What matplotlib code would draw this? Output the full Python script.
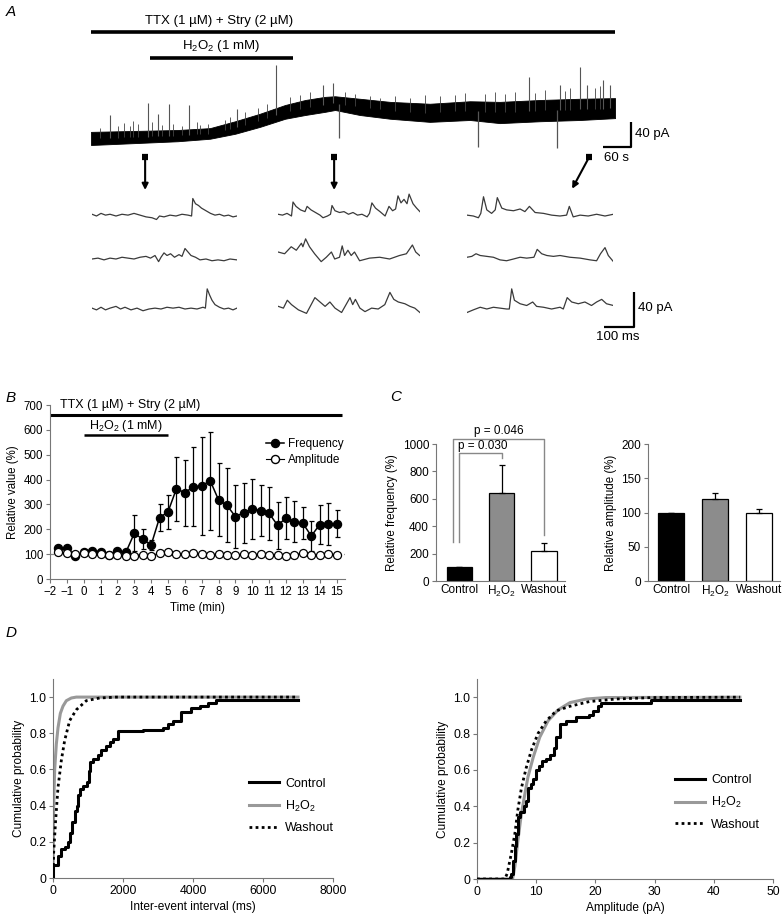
import numpy as np
import matplotlib
matplotlib.use('Agg')
import matplotlib.pyplot as plt
from matplotlib.lines import Line2D

plt.rcParams['font.family'] = ['Liberation Sans', 'DejaVu Sans']
plt.rcParams['mathtext.fontset'] = 'custom'
plt.rcParams['mathtext.rm'] = 'Liberation Sans'
plt.rcParams['mathtext.it'] = 'Liberation Sans:italic'
plt.rcParams['axes.linewidth'] = 0.8

H2O2 = 'H$_2$O$_2$'
NARROW = ['Liberation Sans Narrow', 'Liberation Sans', 'DejaVu Sans']

#   ---------------- data ----------------
#   A: long recording (s, pA above starting baseline), band envelope
trace_t = [0, 186, 255, 309, 362, 416, 459, 501, 523, 576, 641, 726, 812, 876, 962, 1048, 1123]
trace_lo = [0, 6, 10, 18, 29, 42, 48, 53, 56, 48, 42, 37, 40, 35, 38, 40, 43]
trace_hi = [21, 24, 27, 38, 50, 64, 72, 77, 78, 74, 69, 66, 70, 69, 72, 74, 75]
#   big spikes (time s, tip pA)
spike_t = [41, 122, 144, 167, 210, 313, 396, 497, 519, 939, 1005, 1048, 1063, 1097, 1112]
spike_tip = [48, 67, 50, 66, 64, 58, 128, 96, 99, 109, 96, 125, 96, 104, 96]
down_t = [531, 829, 999]
down_tip = [11, -3, -5]
#   small spikes on the band
fuzz_t = [19, 58, 71, 84, 90, 101, 131, 152, 176, 195, 227, 234, 251, 287, 298, 330, 358, 377,
          426, 448, 469, 544, 566, 598, 619, 651, 684, 716, 748, 780, 801, 844, 866, 887, 909,
          951, 973, 1016, 1026, 1080, 1091]
fuzz_tip = [27, 30, 35, 30, 38, 34, 37, 32, 34, 30, 37, 32, 34, 40, 45, 53, 59, 66,
            77, 80, 85, 85, 82, 78, 75, 78, 75, 80, 78, 80, 83, 82, 85, 82, 85,
            83, 88, 86, 91, 91, 94]
ttx_on = [0, 1123]
h2o2_on = [126, 433]
sample_t = [116, 521, 1067]

#   A: sweeps (ms, pA) control / H2O2 / washout, rows 1-3
ctrl_1 = [(0, 2), (15, 0), (30, 3), (45, 1), (60, 2), (80, 0), (100, 2), (120, 1), (140, 3), (160, 1),
          (180, -1), (200, -2), (215, -4), (225, 0), (240, -1), (260, 1), (280, 0), (300, 2), (320, 1),
          (332, 0), (336, 20), (345, 14), (355, 12), (365, 9), (380, 6), (395, 3), (410, 1), (425, 2),
          (440, 0), (455, 1), (470, -1), (483, 0)]
ctrl_2 = [(0, 0), (20, 1), (40, -1), (60, 1), (80, 0), (100, 2), (120, 1), (140, 0), (160, 2), (180, 3),
          (195, 1), (210, 4), (222, -3), (230, 2), (240, 7), (250, 4), (262, 6), (275, 2), (290, 5),
          (300, 3), (310, 12), (320, 8), (330, 4), (345, 2), (360, -1), (380, 0), (400, -2), (420, -1),
          (440, -2), (460, 0), (483, -1)]
ctrl_3 = [(0, 1), (15, -1), (30, 2), (45, -1), (60, 1), (80, 3), (95, 0), (110, 2), (130, -1), (150, 1),
          (170, -2), (190, 0), (210, 1), (230, 0), (250, 2), (270, 1), (290, 2), (310, 0), (330, 1),
          (350, 0), (370, 2), (378, 1), (384, 23), (392, 16), (400, 10), (410, 5), (425, 2), (440, 0),
          (455, 1), (470, -1), (483, 1)]
h2o2_1 = [(0, 2), (15, 1), (30, 3), (45, 0), (50, 16), (60, 11), (75, 7), (90, 5), (97, 11), (110, 7),
          (125, 4), (140, 1), (150, -2), (165, 0), (175, 2), (180, 12), (190, 6), (205, 4), (220, 5),
          (235, 2), (250, 4), (265, 1), (280, 2), (297, -1), (305, 3), (313, 15), (325, 9), (340, 5),
          (357, 0), (370, 11), (382, 6), (392, 8), (400, 23), (410, 15), (420, 19), (430, 14),
          (437, 25), (450, 14), (462, 9), (473, 5)]
h2o2_2 = [(0, 8), (22, 6), (44, 14), (61, 10), (78, 18), (83, 14), (92, 23), (105, 14), (122, 6),
          (144, -3), (161, 2), (178, 8), (189, 0), (205, 2), (214, 15), (222, 4), (233, 10), (244, 4),
          (255, 8), (272, -2), (305, 1), (339, 2), (372, 0), (405, 4), (428, 6), (448, 16), (459, 8),
          (472, 4)]
h2o2_3 = [(1, 3), (18, 1), (31, 10), (45, 5), (68, -1), (95, -5), (123, 13), (140, 8), (157, 3),
          (173, 8), (190, 1), (212, -4), (240, 13), (249, 5), (258, 11), (273, 1), (290, -3), (312, 1),
          (334, 0), (356, 5), (373, 19), (386, 11), (401, 8), (423, 6), (440, 3), (456, 1), (473, -4)]
wash_1 = [(0, 1), (21, 0), (38, -2), (46, 3), (55, 22), (66, 7), (82, 3), (94, 7), (101, 21), (116, 9),
          (132, 7), (155, 6), (177, 8), (193, 5), (208, 11), (227, 4), (255, 3), (282, 1), (310, 0),
          (332, 1), (341, 11), (354, -1), (377, 1), (404, 0), (432, 2), (460, 0), (488, 2)]
wash_2 = [(0, 2), (16, 3), (30, 6), (44, 4), (66, 3), (88, 2), (110, -1), (132, -2), (155, 0), (177, 2),
          (199, 1), (223, 2), (234, 11), (249, 6), (266, 4), (288, 3), (310, 4), (343, 2), (377, 1),
          (410, -1), (432, -2), (445, 6), (460, 13), (471, 4), (488, -3)]
wash_3 = [(0, -4), (21, -1), (44, 2), (66, 0), (88, 2), (110, 1), (132, 0), (141, 0), (149, 23),
          (158, 10), (177, 6), (199, 4), (219, 8), (232, 3), (255, 2), (282, 0), (310, 2), (321, 0),
          (334, 13), (349, 8), (371, 6), (393, 8), (415, 4), (432, 8), (449, 11), (465, 6), (488, 4)]

#   B: time course
time_min = [-1.5, -1, -0.5, 0, 0.5, 1, 1.5, 2, 2.5, 3, 3.5, 4, 4.5, 5, 5.5, 6, 6.5, 7, 7.5, 8,
            8.5, 9, 9.5, 10, 10.5, 11, 11.5, 12, 12.5, 13, 13.5, 14, 14.5, 15]
freq = [123, 123, 94, 110, 114, 110, 97, 114, 107, 184, 160, 137, 247, 270, 363, 347, 371, 374,
        396, 318, 296, 251, 267, 282, 275, 264, 216, 245, 231, 224, 173, 219, 221, 223]
freq_err = [8, 8, 8, 8, 8, 8, 8, 8, 8, 73, 40, 20, 53, 68, 129, 132, 159, 199, 197, 147,
            149, 127, 121, 120, 102, 107, 95, 84, 84, 64, 60, 77, 83, 55]
amp = [108, 105, 100, 104, 100, 100, 95, 95, 93, 93, 96, 93, 105, 108, 100, 100, 103, 101, 98,
       100, 96, 97, 99, 97, 101, 98, 96, 94, 97, 104, 97, 96, 99, 98]

#   C: bar summaries
conds = ['Control', H2O2, 'Washout']
rel_freq = [100, 644, 222]
rel_freq_err = [0, 200, 56]
rel_amp = [100, 120, 100]
rel_amp_err = [0, 9, 4.5]
bar_colors = ['black', '#8c8c8c', 'white']

#   D: cumulative distributions
iei_ctrl_x = [0, 0, 143, 238, 333, 428, 495, 552, 619, 686, 724, 762, 857, 971, 1028, 1066, 1142,
              1285, 1380, 1523, 1618, 1714, 1857, 2285, 2570, 3142, 3284, 3427, 3665, 3950, 4189,
              4427, 4665, 7000]
iei_ctrl_y = [0, 0.07, 0.12, 0.16, 0.17, 0.20, 0.25, 0.31, 0.37, 0.40, 0.46, 0.49, 0.51, 0.53, 0.59,
              0.64, 0.66, 0.68, 0.71, 0.73, 0.75, 0.77, 0.81, 0.815, 0.82, 0.83, 0.85, 0.87, 0.92,
              0.94, 0.95, 0.97, 0.985, 0.985]
iei_h2o2_x = [0, 19, 48, 95, 143, 210, 286, 381, 524, 667, 7000]
iei_h2o2_y = [0, 0.40, 0.60, 0.74, 0.83, 0.91, 0.95, 0.98, 0.995, 1.0, 1.0]
iei_wash_x = [0, 19, 76, 143, 238, 333, 476, 667, 952, 1333, 1810, 7000]
iei_wash_y = [0, 0.14, 0.32, 0.50, 0.65, 0.76, 0.87, 0.93, 0.98, 0.995, 1.0, 1.0]

amp_ctrl_x = [0, 5.5, 5.8, 6.1, 6.4, 6.6, 6.9, 7.3, 7.9, 8.2, 8.6, 9.2, 9.5, 9.9, 10.5, 10.9, 11.7,
              12.4, 13.0, 13.4, 14.0, 15.1, 16.8, 19.0, 19.6, 20.4, 21.0, 29.4, 44.4]
amp_ctrl_y = [0, 0.01, 0.03, 0.10, 0.18, 0.25, 0.34, 0.37, 0.40, 0.43, 0.50, 0.52, 0.55, 0.60, 0.62,
              0.65, 0.66, 0.68, 0.72, 0.78, 0.85, 0.87, 0.89, 0.90, 0.925, 0.95, 0.97, 0.985, 0.985]
amp_h2o2_x = [0, 6.0, 6.4, 6.9, 7.5, 8.1, 8.6, 9.5, 10.6, 12.0, 13.7, 15.7, 18.5, 21.8, 44.4]
amp_h2o2_y = [0, 0, 0.07, 0.21, 0.36, 0.47, 0.56, 0.67, 0.78, 0.87, 0.93, 0.97, 0.99, 0.998, 1.0]
amp_wash_x = [0, 4.7, 5.1, 5.8, 6.4, 6.9, 7.5, 8.3, 9.2, 10.3, 11.7, 13.4, 15.7, 19.0, 23.5, 29.7, 44.4]
amp_wash_y = [0, 0, 0.03, 0.14, 0.25, 0.38, 0.50, 0.61, 0.71, 0.80, 0.87, 0.925, 0.95, 0.976, 0.99,
              0.998, 1.0]

#   ---------------- figure ----------------
W, H = 782, 922
fig = plt.figure(figsize=(W / 100, H / 100), dpi=100)
TICK_FS = 8.3
LAB_FS = 8.3


def box(x0, y0, x1, y1):
    #   pixel box (top-left origin) -> axes
    return fig.add_axes([x0 / W, 1 - y1 / H, (x1 - x0) / W, (y1 - y0) / H])


def style(ax, fs=TICK_FS):
    for s in ['top', 'right']:
        ax.spines[s].set_visible(False)
    for s in ['left', 'bottom']:
        ax.spines[s].set_color('#777777')
    ax.tick_params(labelsize=fs, length=3, width=0.8, color='#777777', pad=2)


for lab, x, y in [('A', 6, 12), ('B', 6, 398), ('C', 390, 397), ('D', 6, 633)]:
    fig.text(x / W, 1 - y / H, lab, fontsize=11, style='italic', ha='left', va='center')

#   ---- A: long trace ----
axA = box(91, 5, 700, 195)
axA.set_xlim(0, 1305)
axA.set_ylim(-80, 224)
axA.axis('off')
mid = (np.array(trace_lo) + np.array(trace_hi)) / 2
axA.fill_between(trace_t, trace_lo, trace_hi, color='black', lw=0.6, edgecolor='black')
axA.vlines(fuzz_t, np.interp(fuzz_t, trace_t, mid), fuzz_tip, color='#444444', lw=0.6)
axA.vlines(spike_t, np.interp(spike_t, trace_t, mid), spike_tip, color='#555555', lw=0.8)
axA.vlines(down_t, np.interp(down_t, trace_t, mid), down_tip, color='#555555', lw=0.9)
axA.plot(ttx_on, [181, 181], color='black', lw=2.6, solid_capstyle='butt')
axA.text(np.mean(ttx_on) * 0.49, 199, 'TTX (1 µM) + Stry (2 µM)', ha='center', va='center',
         fontsize=9.5, family=NARROW)
axA.plot(h2o2_on, [139, 139], color='black', lw=2.6, solid_capstyle='butt')
axA.text(np.mean(h2o2_on), 159, H2O2 + ' (1 mM)', ha='center', va='center', fontsize=9.5, family=NARROW)
#   scale bar 60 s / 40 pA
axA.plot([1097, 1157, 1157], [-3, -3, 37], color='black', lw=1.6, solid_capstyle='butt')
axA.text(1165, 17, '40 pA', ha='left', va='center', fontsize=9.5, family=NARROW)
axA.text(1100, -21, '60 s', ha='left', va='center', fontsize=9.5, family=NARROW)
#   sample markers and arrows
for i, t in enumerate(sample_t):
    axA.plot([t - 7, t + 7], [-19, -19], color='black', lw=4.5, solid_capstyle='butt')
    end = (t, -72) if i < 2 else (t - 36, -70)
    axA.annotate('', xy=end, xytext=(t, -20),
                 arrowprops=dict(arrowstyle='-|>', color='black', lw=1.5, mutation_scale=9,
                                 shrinkA=0, shrinkB=0))

#   ---- A: sample sweeps ----
col_x = [(92, 237), (278, 420), (467, 613)]
row_base = [216, 259, 309]
sweeps = [[ctrl_1, ctrl_2, ctrl_3], [h2o2_1, h2o2_2, h2o2_3], [wash_1, wash_2, wash_3]]
ms_per_px = 10 / 3
pa_per_px = 40 / 35
for c, (x0, x1) in enumerate(col_x):
    for r, yb in enumerate(row_base):
        ax = box(x0, yb - 30, x1, yb + 10)
        ax.set_xlim(0, (x1 - x0) * ms_per_px)
        ax.set_ylim(-10 * pa_per_px, 30 * pa_per_px)
        ax.axis('off')
        pts = np.array(sweeps[c][r])
        ax.plot(pts[:, 0], pts[:, 1], color='#3a3a3a', lw=0.9)
axS = box(590, 280, 700, 345)
axS.set_xlim(0, 110 * ms_per_px)
axS.set_ylim(0, 65 * pa_per_px)
axS.axis('off')
axS.plot([46.7, 146.7, 146.7], [20.5, 20.5, 60.5], color='black', lw=1.6, solid_capstyle='butt')
axS.text(160, 42, '40 pA', ha='left', va='center', fontsize=9.5, family=NARROW)
axS.text(93, 9, '100 ms', ha='center', va='center', fontsize=9.5, family=NARROW)

#   ---- B ----
axB = box(50, 405, 345, 579)
style(axB)
axB.set_xlim(-2, 15.5)
axB.set_ylim(0, 700)
axB.axhline(100, color='#888888', lw=0.9, ls=(0, (3, 2)), zorder=1)
axB.errorbar(time_min, freq, yerr=freq_err, color='black', lw=1.1, marker='o', ms=5.8,
             mfc='black', mec='black', capsize=1.8, elinewidth=0.9, capthick=0.9, zorder=3)
axB.plot(time_min, amp, color='black', lw=0.8, marker='o', ms=5.8, mfc='white', mec='black',
         mew=0.9, zorder=4)
axB.set_xticks(range(-2, 16))
axB.set_yticks(range(0, 701, 100))
axB.set_xlabel('Time (min)', fontsize=LAB_FS, labelpad=3)
axB.set_ylabel('Relative value (%)', fontsize=LAB_FS, labelpad=3)
axB.plot([-2, 15.3], [660, 660], color='black', lw=2.2, clip_on=False, solid_capstyle='butt')
axB.text(-1.4, 702, 'TTX (1 µM) + Stry (2 µM)', fontsize=9, ha='left', va='center')
axB.plot([0, 5], [578, 578], color='black', lw=1.8, solid_capstyle='butt')
axB.text(2.5, 615, H2O2 + ' (1 mM)', fontsize=9, ha='center', va='center')
hB = [Line2D([], [], color='black', lw=1.1, marker='o', ms=5.8, mfc='black'),
      Line2D([], [], color='black', lw=0.8, marker='o', ms=5.8, mfc='white')]
axB.legend(hB, ['Frequency', 'Amplitude'], loc='upper right', bbox_to_anchor=(1.03, 0.87),
           frameon=False, fontsize=8.5, handlelength=1.5, handletextpad=0.3, labelspacing=0.35)

#   ---- C ----
axC1 = box(436, 444, 565, 581)
style(axC1, 8.5)
axC1.set_xlim(-0.55, 2.5)
axC1.set_ylim(0, 1000)
xc = np.arange(3)
axC1.bar(xc, rel_freq, width=0.6, color=bar_colors, edgecolor='black', lw=0.9,
         yerr=[[0, 0, 0], rel_freq_err], capsize=2, error_kw=dict(lw=0.9, capthick=0.9))
axC1.set_xticks(xc)
axC1.set_xticklabels(conds)
axC1.tick_params(axis='x', length=0)
axC1.set_yticks(range(0, 1001, 200))
axC1.set_ylabel('Relative frequency (%)', fontsize=LAB_FS, labelpad=3)
br = dict(color='#888888', lw=1.0, clip_on=False)
axC1.plot([0.0, 0.0, 1.0, 1.0], [285, 937, 937, 895], **br)
axC1.text(-0.03, 985, 'p = 0.030', fontsize=8.5, ha='left', va='center')
axC1.plot([-0.155, -0.155, 2.0, 2.0], [285, 1034, 1034, 334], **br)
axC1.text(0.93, 1092, 'p = 0.046', fontsize=8.5, ha='center', va='center', clip_on=False)

axC2 = box(648, 444, 780, 581)
style(axC2, 8.5)
axC2.set_xlim(-0.53, 2.48)
axC2.set_ylim(0, 200)
axC2.bar(xc, rel_amp, width=0.6, color=bar_colors, edgecolor='black', lw=0.9,
         yerr=[[0, 0, 0], rel_amp_err], capsize=2, error_kw=dict(lw=0.9, capthick=0.9))
axC2.set_xticks(xc)
axC2.set_xticklabels(conds)
axC2.tick_params(axis='x', length=0)
axC2.set_yticks(range(0, 201, 50))
axC2.set_ylabel('Relative amplitude (%)', fontsize=LAB_FS, labelpad=3)

#   ---- D ----
yt = [0, 0.2, 0.4, 0.6, 0.8, 1.0]
ytl = ['0', '0.2', '0.4', '0.6', '0.8', '1.0']
axD1 = box(53, 679, 333, 878)
style(axD1, 8.8)
axD1.set_xlim(0, 8000)
axD1.set_ylim(0, 1.1)
axD1.plot(iei_h2o2_x, iei_h2o2_y, color='#999999', lw=2.2, zorder=2)
axD1.plot(iei_wash_x, iei_wash_y, color='black', lw=2.0, ls=(0, (1, 1.2)), zorder=3)
axD1.plot(iei_ctrl_x, iei_ctrl_y, color='black', lw=2.2, drawstyle='steps-post', zorder=4)
axD1.set_xticks(range(0, 8001, 2000))
axD1.set_yticks(yt)
axD1.set_yticklabels(ytl)
axD1.set_xlabel('Inter-event interval (ms)', fontsize=8.6, labelpad=3)
axD1.set_ylabel('Cumulative probability', fontsize=8.6, labelpad=3)

axD2 = box(477, 679, 773, 879)
style(axD2, 8.8)
axD2.set_xlim(0, 50)
axD2.set_ylim(0, 1.1)
axD2.plot(amp_h2o2_x, amp_h2o2_y, color='#999999', lw=2.2, zorder=2)
axD2.plot(amp_wash_x, amp_wash_y, color='black', lw=2.0, ls=(0, (1, 1.2)), zorder=3)
axD2.plot(amp_ctrl_x, amp_ctrl_y, color='black', lw=2.2, drawstyle='steps-post', zorder=4)
axD2.set_xticks(range(0, 51, 10))
axD2.set_yticks(yt)
axD2.set_yticklabels(ytl)
axD2.set_xlabel('Amplitude (pA)', fontsize=8.6, labelpad=3)
axD2.set_ylabel('Cumulative probability', fontsize=8.6, labelpad=3)

hD = [Line2D([], [], color='black', lw=2.2),
      Line2D([], [], color='#999999', lw=2.2),
      Line2D([], [], color='black', lw=2.0, ls=(0, (1, 1.2)))]
lD = ['Control', H2O2, 'Washout']
axD1.legend(hD, lD, loc='upper left', bbox_to_anchor=(0.66, 0.56), frameon=False, fontsize=9,
            handlelength=2.4, handletextpad=0.5, labelspacing=0.7)
axD2.legend(hD, lD, loc='upper left', bbox_to_anchor=(0.63, 0.58), frameon=False, fontsize=9,
            handlelength=2.4, handletextpad=0.5, labelspacing=0.7)

fig.savefig('out.png', dpi=100)
